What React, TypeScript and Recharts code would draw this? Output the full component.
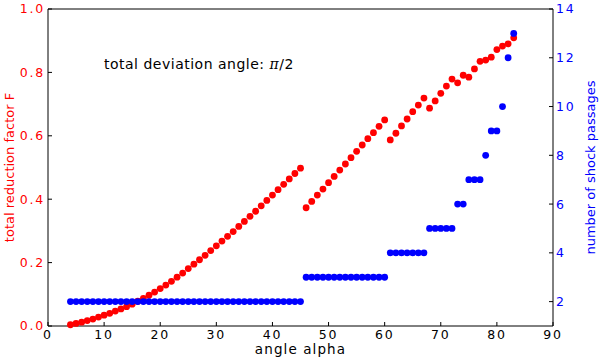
import * as React from 'react';
import { Scatter, ScatterChart, XAxis, YAxis } from 'recharts';

// angle alpha (degrees), one point per degree
const angles = [
  4, 5, 6, 7, 8, 9, 10, 11, 12, 13, 14, 15, 16, 17, 18, 19, 20, 21, 22, 23, 24, 25, 26, 27, 28, 29,
  30, 31, 32, 33, 34, 35, 36, 37, 38, 39, 40, 41, 42, 43, 44, 45, 46, 47, 48, 49, 50, 51, 52, 53, 54,
  55, 56, 57, 58, 59, 60, 61, 62, 63, 64, 65, 66, 67, 68, 69, 70, 71, 72, 73, 74, 75, 76, 77, 78, 79,
  80, 81, 82, 83,
];

// total reduction factor F (left axis, red)
const reductionF = [
  0.004, 0.008, 0.012, 0.017, 0.022, 0.028, 0.034, 0.04, 0.047, 0.054, 0.061, 0.069, 0.078, 0.087,
  0.097, 0.107, 0.118, 0.129, 0.141, 0.154, 0.167, 0.181, 0.195, 0.209, 0.223, 0.238, 0.253, 0.268,
  0.283, 0.298, 0.314, 0.33, 0.346, 0.362, 0.379, 0.396, 0.413, 0.43, 0.447, 0.464, 0.481, 0.498,
  0.373, 0.393, 0.413, 0.432, 0.452, 0.472, 0.492, 0.511, 0.531, 0.551, 0.571, 0.591, 0.61, 0.63,
  0.65, 0.587, 0.608, 0.631, 0.653, 0.676, 0.697, 0.719, 0.687, 0.71, 0.734, 0.757, 0.779, 0.767,
  0.791, 0.785, 0.811, 0.835, 0.839, 0.848, 0.872, 0.883, 0.89, 0.909,
];

// number of shock passages (right axis, blue)
const shockPassages = [
  2, 2, 2, 2, 2, 2, 2, 2, 2, 2, 2, 2, 2, 2, 2, 2, 2, 2, 2, 2, 2, 2, 2, 2, 2, 2, 2, 2, 2, 2, 2, 2, 2,
  2, 2, 2, 2, 2, 2, 2, 2, 2, 3, 3, 3, 3, 3, 3, 3, 3, 3, 3, 3, 3, 3, 3, 3, 4, 4, 4, 4, 4, 4, 4, 5, 5,
  5, 5, 5, 6, 6, 7, 7, 7, 8, 9, 9, 10, 12, 13,
];

const xTicks = [0, 10, 20, 30, 40, 50, 60, 70, 80, 90];
const leftTicks = [0, 0.2, 0.4, 0.6, 0.8, 1.0];
const rightTicks = [2, 4, 6, 8, 10, 12, 14];

const RED = '#ff0000';
const BLUE = '#0000ff';
const FONT = 'DejaVu Sans, sans-serif';

const redData = angles.map((a, i) => ({ x: a, y: reductionF[i] }));
const blueData = angles.map((a, i) => ({ x: a, y: shockPassages[i] }));

const dot = (color: string) => (props: any) => (
  <circle cx={props.cx} cy={props.cy} r={3.4} fill={color} stroke="none" />
);

export default function App(): React.JSX.Element {
  const tickFont = { fontFamily: FONT, fontSize: 12.5, letterSpacing: 1.8 };
  return (
    <div style={{ position: 'absolute', left: 0, top: 0, width: 600, height: 358, background: '#fff' }}>
      <ScatterChart width={600} height={358} margin={{ top: 0, right: 0, bottom: 0, left: 0 }}>
        <XAxis
          xAxisId="bottom"
          type="number"
          dataKey="x"
          domain={[0, 90]}
          ticks={xTicks}
          height={32}
          stroke="#000"
          tickSize={-4}
          tickMargin={8}
          tick={{ ...tickFont, fill: '#000' }}
          label={{
            value: 'angle alpha',
            position: 'insideBottom',
            offset: 4,
            style: { fontFamily: FONT, fontSize: 13.5, letterSpacing: 1.1, fill: '#000' },
          }}
        />
        <XAxis
          xAxisId="top"
          orientation="top"
          type="number"
          dataKey="x"
          domain={[0, 90]}
          ticks={xTicks}
          height={9}
          stroke="#000"
          tickSize={-4}
          tick={false}
        />
        <YAxis
          yAxisId="left"
          type="number"
          dataKey="y"
          domain={[0, 1]}
          ticks={leftTicks}
          width={48}
          stroke="#000"
          tickSize={-4}
          tickMargin={7}
          tickFormatter={(v: number) => v.toFixed(1)}
          tick={{ ...tickFont, fill: RED }}
          label={{
            value: 'total reduction factor F',
            angle: -90,
            position: 'insideLeft',
            offset: 9,
            textAnchor: 'middle',
            style: { fontFamily: FONT, fontSize: 13, fill: RED, textAnchor: 'middle' },
          }}
        />
        <YAxis
          yAxisId="right"
          orientation="right"
          type="number"
          dataKey="y"
          domain={[1, 14]}
          ticks={rightTicks}
          width={47}
          stroke="#000"
          tickSize={-4}
          tickMargin={7}
          tick={{ ...tickFont, fill: BLUE }}
          label={{
            value: 'number of shock passages',
            angle: -90,
            position: 'insideRight',
            offset: 10,
            textAnchor: 'middle',
            style: { fontFamily: FONT, fontSize: 13, fill: BLUE, textAnchor: 'middle' },
          }}
        />
        <Scatter
          data={redData}
          xAxisId="bottom"
          yAxisId="left"
          fill={RED}
          shape={dot(RED)}
          isAnimationActive={false}
        />
        <Scatter
          data={blueData}
          xAxisId="bottom"
          yAxisId="right"
          fill={BLUE}
          shape={dot(BLUE)}
          isAnimationActive={false}
        />
      </ScatterChart>
      <div
        style={{
          position: 'absolute',
          left: 104,
          top: 55,
          fontFamily: FONT,
          fontSize: 14,
          letterSpacing: 0.5,
          lineHeight: '18px',
          color: '#000',
          whiteSpace: 'nowrap',
        }}
      >
        total deviation angle:{' '}
        <span style={{ fontFamily: 'DejaVu Serif, serif', fontStyle: 'italic' }}>π</span>/2
      </div>
    </div>
  );
}
